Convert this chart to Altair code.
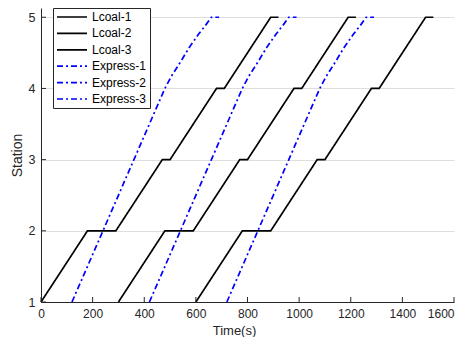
import altair as alt
import pandas as pd

# ---- data ----
trains = ["Lcoal-1", "Lcoal-2", "Lcoal-3", "Express-1", "Express-2", "Express-3"]
train_colors = ["#000000", "#000000", "#000000", "#0000ff", "#0000ff", "#0000ff"]
train_dashes = [[1, 0], [1, 0], [1, 0], [6, 3, 2, 3], [6, 3, 2, 3], [6, 3, 2, 3]]

local_stations = [1, 2, 2, 3, 3, 4, 4, 5, 5]
lcoal1_time = [0, 180, 290, 470, 500, 680, 710, 890, 920]
lcoal2_time = [300, 480, 590, 770, 800, 980, 1010, 1190, 1220]
lcoal3_time = [600, 780, 890, 1070, 1100, 1280, 1310, 1490, 1520]

express_stations = [1, 2, 3, 4, 4.17, 4.37, 4.58, 4.76, 4.9, 5, 5]
express1_time = [120, 240, 360, 480, 505, 540, 575, 610, 640, 660, 690]
express2_time = [420, 540, 660, 780, 805, 840, 875, 910, 940, 960, 990]
express3_time = [720, 840, 960, 1080, 1105, 1140, 1175, 1210, 1240, 1260, 1290]

x_ticks = [0, 200, 400, 600, 800, 1000, 1200, 1400, 1600]
y_ticks = [1, 2, 3, 4, 5]

series = [
    ("Lcoal-1", lcoal1_time, local_stations),
    ("Lcoal-2", lcoal2_time, local_stations),
    ("Lcoal-3", lcoal3_time, local_stations),
    ("Express-1", express1_time, express_stations),
    ("Express-2", express2_time, express_stations),
    ("Express-3", express3_time, express_stations),
]
rows = []
for name, ts, ss in series:
    for i, (t, s) in enumerate(zip(ts, ss)):
        rows.append({"train": name, "t": t, "s": s, "idx": i})
df = pd.DataFrame(rows)
xt_df = pd.DataFrame({"t": x_ticks})
yt_df = pd.DataFrame({"s": y_ticks})

W, H = 413, 294
AX = "#262626"

x_scale = alt.Scale(domain=[0, 1600], nice=False, zero=False)
y_scale = alt.Scale(domain=[1, 5.13], nice=False, zero=False)

lines = alt.Chart(df).mark_line(strokeWidth=1.7).encode(
    x=alt.X("t:Q", scale=x_scale, axis=alt.Axis(
        values=x_ticks, format="d", ticks=False, grid=False,
        labelFontSize=12, labelColor=AX, labelPadding=6,
        labelFlush=False, labelOverlap=False,
        labelAlign=alt.ExprRef(expr="datum.value >= 1600 ? 'right' : 'center'"),
        domainColor=AX, domainWidth=1, zindex=1,
        title="Time(s)", titleFontSize=13, titleFontWeight="normal",
        titleColor=AX, titleX=193, titleY=32, titleAlign="center",
        titleBaseline="alphabetic")),
    y=alt.Y("s:Q", scale=y_scale, axis=alt.Axis(
        values=y_ticks, format="d", ticks=False, grid=True,
        gridColor="#dedede", gridWidth=1,
        labelFontSize=12.5, labelColor=AX, labelPadding=6,
        domainColor=AX, domainWidth=1,
        title="Station", titleFontSize=14, titleFontWeight="normal",
        titleColor=AX, titleX=-20, titleY=147, titleAngle=270,
        titleAlign="center", titleBaseline="alphabetic")),
    color=alt.Color("train:N", scale=alt.Scale(domain=trains, range=train_colors),
                    legend=alt.Legend(title=None)),
    strokeDash=alt.StrokeDash("train:N", scale=alt.Scale(domain=trains, range=train_dashes),
                              legend=alt.Legend(title=None)),
    detail="train:N",
    order="idx:Q",
)

xticks = alt.Chart(xt_df).mark_rule(color=AX, strokeWidth=1).encode(
    x=alt.X("t:Q"), y=alt.value(H), y2=alt.value(H - 5))
yticks = alt.Chart(yt_df).mark_rule(color=AX, strokeWidth=1).encode(
    y=alt.Y("s:Q"), x=alt.value(0), x2=alt.value(5))

chart = alt.layer(lines, xticks, yticks).properties(
    width=W, height=H,
    autosize=alt.AutoSizeParams(type="none"),
    padding={"left": 33, "top": 0, "right": 6, "bottom": 35},
).configure(font="Liberation Sans").configure_view(stroke=None).configure_legend(
    orient="none", legendX=12, legendY=0, padding=3,
    fillColor="white", strokeColor=AX,
    symbolType="stroke", symbolSize=900, symbolStrokeWidth=1.7,
    clipHeight=12, rowPadding=4.4, symbolOffset=0,
    labelFontSize=12, labelOffset=4, labelColor="#000000", labelFont="Liberation Sans",
)

chart.save("out.html", embed_options={"renderer": "svg", "actions": False})
